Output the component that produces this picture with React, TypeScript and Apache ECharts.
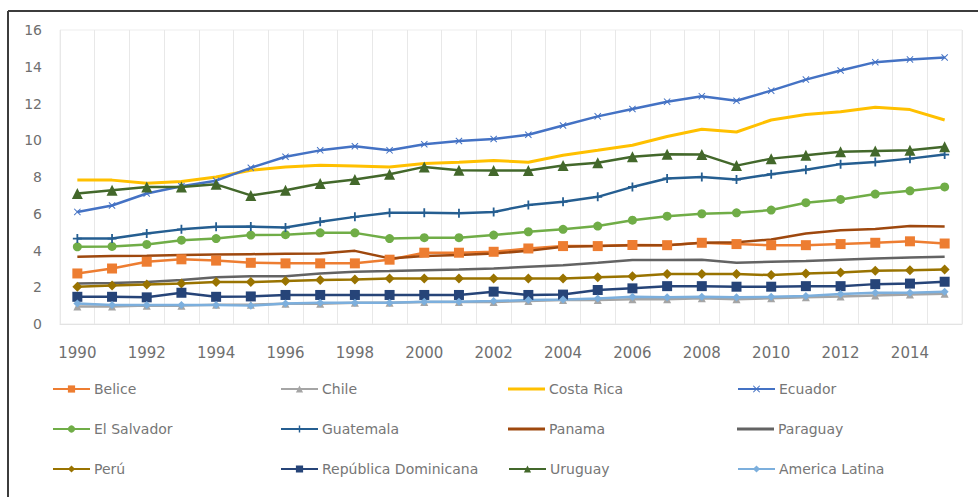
import React, { useEffect, useRef } from "react";
import * as echarts from "echarts";

const years = ["1990","1991","1992","1993","1994","1995","1996","1997","1998","1999","2000","2001","2002","2003","2004","2005","2006","2007","2008","2009","2010","2011","2012","2013","2014","2015"];

const belice = [2.75, 3.02, 3.39, 3.52, 3.45, 3.33, 3.3, 3.3, 3.3, 3.5, 3.88, 3.88, 3.93, 4.11, 4.24, 4.24, 4.3, 4.29, 4.42, 4.35, 4.29, 4.29, 4.35, 4.42, 4.5, 4.38];
const chile = [0.95, 0.95, 1.0, 1.0, 1.05, 1.05, 1.1, 1.1, 1.15, 1.15, 1.2, 1.2, 1.2, 1.25, 1.3, 1.3, 1.35, 1.35, 1.4, 1.35, 1.4, 1.45, 1.5, 1.55, 1.6, 1.65];
const costaRica = [7.83, 7.83, 7.66, 7.75, 8.0, 8.37, 8.55, 8.64, 8.6, 8.55, 8.74, 8.8, 8.9, 8.8, 9.18, 9.45, 9.73, 10.2, 10.6, 10.45, 11.1, 11.4, 11.55, 11.8, 11.67, 11.1];
const ecuador = [6.1, 6.45, 7.1, 7.5, 7.8, 8.5, 9.1, 9.45, 9.67, 9.45, 9.78, 9.96, 10.07, 10.3, 10.8, 11.3, 11.7, 12.1, 12.4, 12.15, 12.7, 13.3, 13.8, 14.25, 14.4, 14.5];
const elSalvador = [4.2, 4.22, 4.33, 4.56, 4.65, 4.84, 4.86, 4.96, 4.96, 4.65, 4.7, 4.7, 4.84, 5.02, 5.15, 5.33, 5.65, 5.87, 6.0, 6.05, 6.2, 6.6, 6.78, 7.07, 7.25, 7.46];
const guatemala = [4.65, 4.65, 4.93, 5.15, 5.29, 5.3, 5.25, 5.56, 5.83, 6.05, 6.05, 6.03, 6.1, 6.47, 6.65, 6.92, 7.46, 7.92, 8.0, 7.86, 8.15, 8.4, 8.7, 8.82, 9.0, 9.22];
const panama = [3.66, 3.7, 3.72, 3.75, 3.78, 3.8, 3.82, 3.84, 3.98, 3.57, 3.7, 3.75, 3.84, 3.98, 4.2, 4.24, 4.29, 4.29, 4.42, 4.45, 4.6, 4.93, 5.1, 5.17, 5.33, 5.3];
const paraguay = [2.21, 2.23, 2.28, 2.39, 2.54, 2.6, 2.6, 2.75, 2.84, 2.88, 2.93, 2.97, 3.02, 3.11, 3.2, 3.33, 3.48, 3.48, 3.5, 3.33, 3.39, 3.43, 3.5, 3.57, 3.62, 3.66];
const peru = [2.03, 2.1, 2.15, 2.21, 2.28, 2.28, 2.34, 2.39, 2.42, 2.48, 2.48, 2.48, 2.48, 2.48, 2.48, 2.54, 2.6, 2.72, 2.72, 2.72, 2.66, 2.75, 2.8, 2.9, 2.93, 2.97];
const repDom = [1.48, 1.48, 1.45, 1.7, 1.48, 1.5, 1.58, 1.58, 1.58, 1.58, 1.58, 1.58, 1.76, 1.58, 1.6, 1.85, 1.94, 2.06, 2.06, 2.03, 2.03, 2.06, 2.06, 2.17, 2.2, 2.3];
const uruguay = [7.1, 7.28, 7.46, 7.46, 7.6, 7.0, 7.28, 7.65, 7.86, 8.15, 8.55, 8.37, 8.35, 8.35, 8.62, 8.77, 9.1, 9.24, 9.23, 8.62, 9.0, 9.18, 9.37, 9.42, 9.45, 9.64];
const americaLatina = [1.12, 1.03, 1.03, 1.03, 1.03, 1.0, 1.12, 1.16, 1.16, 1.16, 1.21, 1.21, 1.25, 1.3, 1.34, 1.39, 1.48, 1.46, 1.48, 1.46, 1.48, 1.52, 1.63, 1.7, 1.7, 1.76];

const yTicks = [0, 2, 4, 6, 8, 10, 12, 14, 16];

const PLUS = "path://M4,0H6V4H10V6H6V10H4V6H0V4H4Z";
const XMARK = "path://M0,1L1,0L5,4L9,0L10,1L6,5L10,9L9,10L5,6L1,10L0,9L4,5Z";
const LINE_ICON = "path://M0,0H37V3H0Z";

const seriesDefs = [
  { name: "Belice", data: belice, color: "#ED7D31", symbol: "rect", size: 10 },
  { name: "Chile", data: chile, color: "#A5A5A5", symbol: "triangle", size: 8 },
  { name: "Costa Rica", data: costaRica, color: "#FFC000", symbol: "none", size: 0 },
  { name: "Ecuador", data: ecuador, color: "#4472C4", symbol: XMARK, size: 7 },
  { name: "El Salvador", data: elSalvador, color: "#70AD47", symbol: "circle", size: 9 },
  { name: "Guatemala", data: guatemala, color: "#255E91", symbol: PLUS, size: 9 },
  { name: "Panama", data: panama, color: "#9E480E", symbol: "none", size: 0 },
  { name: "Paraguay", data: paraguay, color: "#636363", symbol: "none", size: 0 },
  { name: "Perú", data: peru, color: "#997300", symbol: "diamond", size: 10 },
  { name: "República Dominicana", data: repDom, color: "#264478", symbol: "rect", size: 10 },
  { name: "Uruguay", data: uruguay, color: "#43682B", symbol: "triangle", size: 11 },
  { name: "America Latina", data: americaLatina, color: "#7CAFDD", symbol: "diamond", size: 8 },
];

const colX = [52, 280, 508, 737];
const rowY = [382, 422, 462];

export default function App() {
  const ref = useRef<HTMLDivElement>(null);
  useEffect(() => {
    if (!ref.current) return;
    const chart = echarts.init(ref.current, null, { renderer: "svg" });
    const font = "'DejaVu Sans', sans-serif";
    chart.setOption({
      animation: false,
      backgroundColor: "#ffffff",
      grid: {
        left: 60,
        right: 16,
        top: 30,
        bottom: 173,
        show: true,
        borderColor: "#EDEDED",
        borderWidth: 1,
      },
      xAxis: {
        type: "category",
        data: years,
        boundaryGap: true,
        axisLine: { show: true, lineStyle: { color: "#E3E3E3", width: 1 } },
        axisTick: { show: false },
        axisLabel: {
          interval: 1,
          color: "#6F6F6F",
          fontSize: 15,
          fontFamily: font,
          margin: 21,
        },
        splitLine: { show: true, interval: 0, lineStyle: { color: "#E8E8E8", width: 1 } },
      },
      yAxis: {
        type: "value",
        min: yTicks[0],
        max: yTicks[yTicks.length - 1],
        interval: 2,
        axisLine: { show: false },
        axisTick: { show: false },
        splitLine: { show: false },
        axisLabel: {
          color: "#6F6F6F",
          fontSize: 14,
          fontFamily: font,
          margin: 18,
        },
      },
      legend: seriesDefs.map((s, i) => {
        const noMarker = s.symbol === "none";
        return {
          data: noMarker ? [{ name: s.name, icon: LINE_ICON }] : [s.name],
          left: colX[i % 4],
          top: rowY[Math.floor(i / 4)],
          itemWidth: 37,
          itemHeight: noMarker ? 3 : 9,
          itemGap: 0,
          padding: 0,
          selectedMode: false,
          textStyle: { color: "#767676", fontSize: 14, fontFamily: font, padding: [0, 0, 0, -1] },
        };
      }),
      series: seriesDefs.map((s) => ({
        type: "line",
        name: s.name,
        data: s.data,
        symbol: s.symbol,
        symbolSize: s.size,
        showSymbol: s.symbol !== "none",
        lineStyle: { color: s.color, width: s.name === "Costa Rica" ? 3 : 2.5 },
        itemStyle: { color: s.color, borderColor: s.color, borderWidth: 0 },
        emphasis: { disabled: true },
      })),
      graphic: [
        { type: "line", shape: { x1: 8, y1: 11, x2: 978, y2: 11 }, style: { stroke: "#3C3C3C", lineWidth: 2 } },
        { type: "line", shape: { x1: 8, y1: 11, x2: 8, y2: 497 }, style: { stroke: "#3C3C3C", lineWidth: 2 } },
      ],
    });
    return () => chart.dispose();
  }, []);
  return (
    <div
      ref={ref}
      style={{ position: "fixed", left: 0, top: 0, width: 978, height: 497, background: "#fff" }}
    />
  );
}
